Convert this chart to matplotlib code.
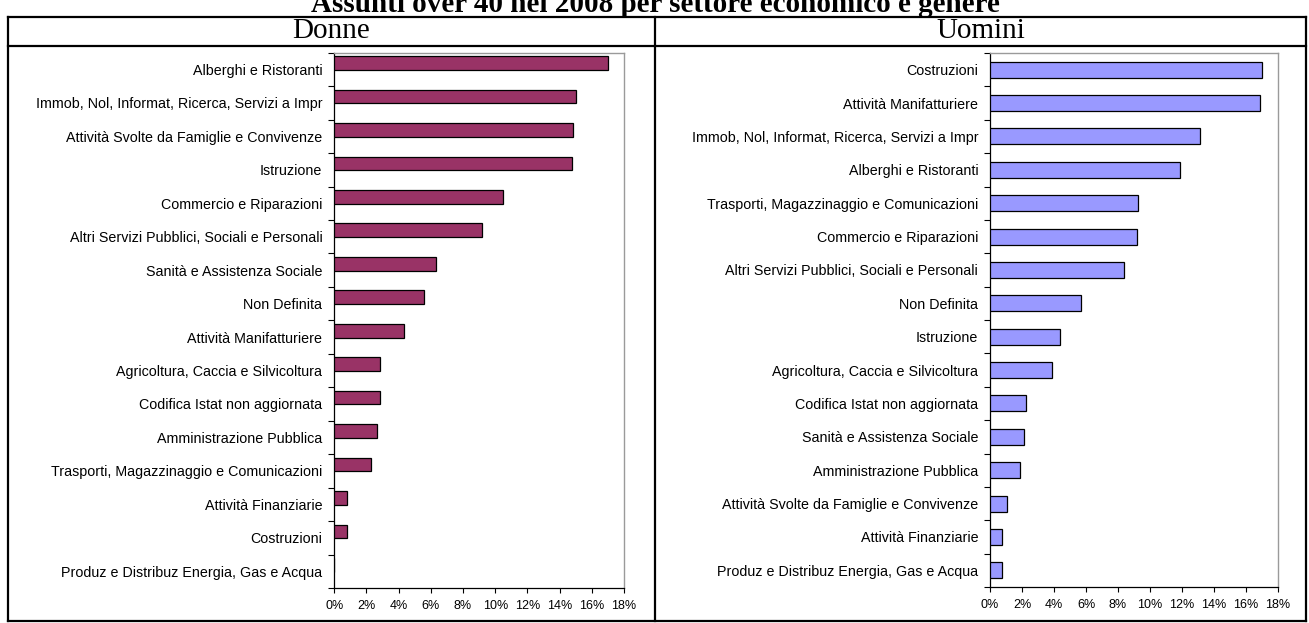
import matplotlib
matplotlib.use("Agg")
import matplotlib.pyplot as plt
from matplotlib.lines import Line2D
from matplotlib.ticker import FuncFormatter, FixedLocator

# data (percent of hires, over 40, 2008)
donne_cat = ["Alberghi e Ristoranti",
             "Immob, Nol, Informat, Ricerca, Servizi a Impr",
             "Attività Svolte da Famiglie e Convivenze",
             "Istruzione",
             "Commercio e Riparazioni",
             "Altri Servizi Pubblici, Sociali e Personali",
             "Sanità e Assistenza Sociale",
             "Non Definita",
             "Attività Manifatturiere",
             "Agricoltura, Caccia e Silvicoltura",
             "Codifica Istat non aggiornata",
             "Amministrazione Pubblica",
             "Trasporti, Magazzinaggio e Comunicazioni",
             "Attività Finanziarie",
             "Costruzioni",
             "Produz e Distribuz Energia, Gas e Acqua"]
donne_val = [17.0, 15.0, 14.85, 14.8, 10.5, 9.2, 6.3, 5.6, 4.3, 2.85, 2.85, 2.65, 2.3, 0.8, 0.8, 0.0]

uomini_cat = ["Costruzioni",
              "Attività Manifatturiere",
              "Immob, Nol, Informat, Ricerca, Servizi a Impr",
              "Alberghi e Ristoranti",
              "Trasporti, Magazzinaggio e Comunicazioni",
              "Commercio e Riparazioni",
              "Altri Servizi Pubblici, Sociali e Personali",
              "Non Definita",
              "Istruzione",
              "Agricoltura, Caccia e Silvicoltura",
              "Codifica Istat non aggiornata",
              "Sanità e Assistenza Sociale",
              "Amministrazione Pubblica",
              "Attività Svolte da Famiglie e Convivenze",
              "Attività Finanziarie",
              "Produz e Distribuz Energia, Gas e Acqua"]
uomini_val = [17.0, 16.9, 13.1, 11.9, 9.25, 9.2, 8.4, 5.7, 4.4, 3.9, 2.25, 2.1, 1.9, 1.05, 0.75, 0.75]

x_ticks = [0, 2, 4, 6, 8, 10, 12, 14, 16, 18]

title = "Assunti over 40 nel 2008 per settore economico e genere"
headers = ["Donne", "Uomini"]

W, H = 1309, 623
fig = plt.figure(figsize=(W / 100, H / 100), dpi=100)
fig.patch.set_facecolor("white")


def px(x0, y0, x1, y1):
    # pixel box -> figure fraction rect
    return [x0 / W, 1 - y1 / H, (x1 - x0) / W, (y1 - y0) / H]


def draw_panel(ax, cats, vals, color, offset, height):
    n = len(cats)
    pos = list(range(n))
    ax.barh([p + offset for p in pos], vals, height=height, color=color,
            edgecolor="black", linewidth=0.9, zorder=3)
    ax.set_ylim(n - 0.5, -0.5)
    ax.set_xlim(0, 18)
    ax.set_yticks(pos)
    ax.set_yticklabels(cats, fontsize=10.3, family="Liberation Sans")
    ax.tick_params(axis="y", which="major", length=0, pad=8.5)
    ax.yaxis.set_minor_locator(FixedLocator([p - 0.5 for p in range(n + 1)]))
    ax.tick_params(axis="y", which="minor", length=4, width=0.8, direction="out")
    ax.set_xticks(x_ticks)
    ax.xaxis.set_major_formatter(FuncFormatter(lambda v, p: "%d%%" % v))
    ax.tick_params(axis="x", length=3.5, width=0.8, direction="out", pad=5,
                   labelsize=9)
    for lab in ax.get_xticklabels():
        lab.set_family("Liberation Sans")
    ax.spines["left"].set_color("black")
    ax.spines["bottom"].set_color("black")
    ax.spines["left"].set_linewidth(0.9)
    ax.spines["bottom"].set_linewidth(0.9)
    ax.spines["top"].set_color("#9a9a9a")
    ax.spines["right"].set_color("#9a9a9a")
    ax.spines["top"].set_linewidth(1.0)
    ax.spines["right"].set_linewidth(1.0)


ax1 = fig.add_axes(px(334.3, 52.7, 624, 588))
draw_panel(ax1, donne_cat, donne_val, "#993366", -0.19, 0.41)

ax2 = fig.add_axes(px(990, 53, 1278, 587))
draw_panel(ax2, uomini_cat, uomini_val, "#9999FF", 0.0, 0.48)

# table frame around the two charts
lw = 1.6
frame = [
    ((8, 17), (1306, 17)),
    ((8, 46), (1306, 46)),
    ((8, 621), (1306, 621)),
    ((8, 17), (8, 621)),
    ((1306, 17), (1306, 621)),
    ((655, 17), (655, 621)),
]
for (xa, ya), (xb, yb) in frame:
    fig.add_artist(Line2D([xa / W, xb / W], [1 - ya / H, 1 - yb / H],
                          transform=fig.transFigure, color="black", lw=lw))

# title sits partly above the page edge, as in the source
fig.text(655 / W, 1 - 12 / H, title, ha="center", va="baseline",
         fontsize=21, fontweight="bold", family="Liberation Serif")
fig.text(331 / W, 1 - 31 / H, headers[0], ha="center", va="center",
         fontsize=21, family="Liberation Serif")
fig.text(981 / W, 1 - 31 / H, headers[1], ha="center", va="center",
         fontsize=21, family="Liberation Serif")

fig.savefig("out.png", dpi=100, facecolor="white")
